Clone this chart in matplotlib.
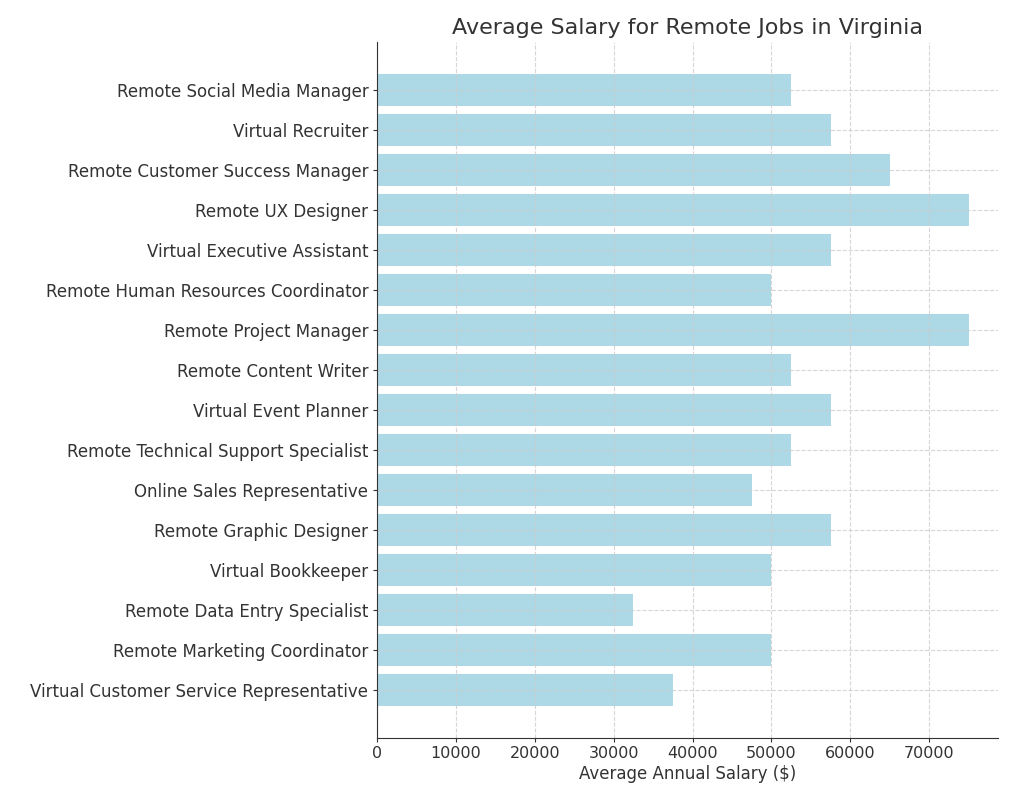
import matplotlib.pyplot as plt

jobs = [
    'Virtual Customer Service Representative',
    'Remote Marketing Coordinator',
    'Remote Data Entry Specialist',
    'Virtual Bookkeeper',
    'Remote Graphic Designer',
    'Online Sales Representative',
    'Remote Technical Support Specialist',
    'Virtual Event Planner',
    'Remote Content Writer',
    'Remote Project Manager',
    'Remote Human Resources Coordinator',
    'Virtual Executive Assistant',
    'Remote UX Designer',
    'Remote Customer Success Manager',
    'Virtual Recruiter',
    'Remote Social Media Manager',
]
salaries = [37500, 50000, 32500, 50000, 57500, 47500, 52500, 57500,
            52500, 75000, 50000, 57500, 75000, 65000, 57500, 52500]

text_color = '#333333'

fig = plt.figure(figsize=(10.24, 7.9), dpi=100)
ax = fig.add_axes([0.368, 0.066, 0.607, 0.881])
ax.barh(jobs, salaries, height=0.8, color='lightblue', zorder=1)
ax.set_axisbelow('line')
ax.grid(True, linestyle='--', color='#cccccc', linewidth=0.8, alpha=0.8)

for side in ['top', 'right']:
    ax.spines[side].set_visible(False)
for side in ['left', 'bottom']:
    ax.spines[side].set_color(text_color)
    ax.spines[side].set_zorder(3)

ax.tick_params(axis='both', colors=text_color, labelcolor=text_color, length=3, pad=3)
ax.tick_params(axis='y', labelsize=12)
ax.tick_params(axis='x', labelsize=11.5)
ax.set_xlabel('Average Annual Salary ($)', fontsize=12, color=text_color, labelpad=3)
ax.set_title('Average Salary for Remote Jobs in Virginia', fontsize=16, color=text_color)

fig.savefig('out.png', dpi=100)
